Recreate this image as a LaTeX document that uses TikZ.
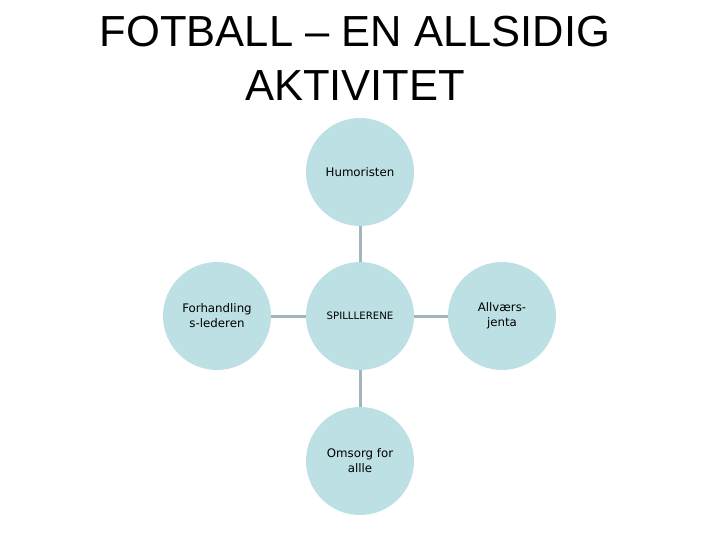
\documentclass[tikz,border=0pt]{standalone}
\usepackage{fontspec}
\setmainfont{Liberation Sans}
\newfontfamily\boblefont{DejaVu Sans}
\definecolor{boblefarge}{RGB}{189,224,228}
\definecolor{strekfarge}{RGB}{160,182,186}

\begin{document}
\begin{tikzpicture}[x=1pt,y=-1pt,
  boble/.style={circle,fill=boblefarge,minimum size=108pt,inner sep=0pt,outer sep=0pt,
    align=center,font=\boblefont\fontsize{11.8}{15}\selectfont},
  strek/.style={color=strekfarge,line width=3pt}]
\useasboundingbox (0,0) rectangle (720,540);
% tittel
\node (tittel) at (355,58) [align=center,font=\fontsize{43.5}{54}\selectfont] {FOTBALL -- EN ALLSIDIG\\AKTIVITET};
% tegn bobler
\node[boble] (midt) at (360,316) {\raisebox{-7pt}{\fontsize{10.2}{10}\selectfont SPILLLERENE}};
\node[boble] (topp) at (360,172) {Humoristen};
\node[boble] (venstre) at (217,316) {Forhandling\\s-lederen};
\node[boble] (hoyre) at (502,316) {Allværs-\\jenta};
\node[boble] (bunn) at (360,461) {Omsorg for\\allle};
% tegn streker
\draw[strek] (midt) -- (topp);
\draw[strek] (midt) -- (venstre);
\draw[strek] (midt) -- (hoyre);
\draw[strek] (midt) -- (bunn);
\end{tikzpicture}
\end{document}
